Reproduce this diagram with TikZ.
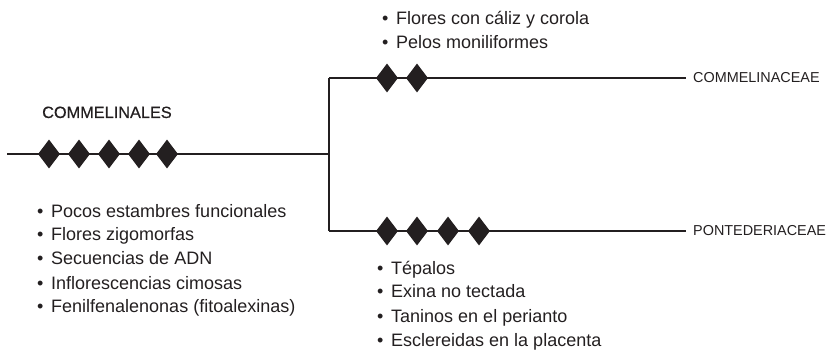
\documentclass[tikz,border=0pt]{standalone}
\usepackage{fontspec}
\setmainfont{Liberation Sans}
\newfontfamily\medfont[FakeBold=0.5]{Liberation Sans}
\usetikzlibrary{shapes.geometric}
\definecolor{ink}{HTML}{231F20}
\begin{document}
\begin{tikzpicture}[x=1pt,y=-1pt,
  branch/.style={draw=ink,line width=1.1pt},
  gem/.style={diamond,fill=ink,draw=none,inner sep=0pt,aspect=0.76,minimum width=22pt,minimum height=29pt},
  leaf/.style={text=ink,font=\fontsize{14.4}{18}\selectfont,inner xsep=7pt,inner ysep=0pt},
  group/.style={text=ink,font=\medfont\fontsize{16.3}{20}\selectfont,inner sep=0pt},
  traits/.style={text=ink,font=\fontsize{18}{24}\selectfont,align=left,inner sep=0pt}]
\useasboundingbox (0,0) rectangle (832,352);
\coordinate (root) at (7,154);
\coordinate (fork) at (329,154);
\coordinate (ftop) at (329,78);
\coordinate (fbot) at (329,231);
\node[leaf,anchor=west] (comm) at (686,78) {COMMELINACEAE};
\node[leaf,anchor=west] (pont) at (686,231) {PONTEDERIACEAE};
\draw[branch] (root) -- (fork);
\draw[branch] (ftop) -- (fbot);
\draw[branch] (ftop) -- (comm.west);
\draw[branch] (fbot) -- (pont.west);
\foreach \i/\x in {1/49,2/79,3/109,4/139,5/167}
  \node[gem] (a\i) at (\x,154) {};
\foreach \i/\x in {1/387,2/417}
  \node[gem] (b\i) at (\x,78) {};
\foreach \i/\x in {1/387,2/417,3/448,4/479}
  \node[gem] (c\i) at (\x,231) {};
\node[group,anchor=base west] (lab) at (42,118) {COMMELINALES};
\node[traits,anchor=base west] (ta) at (37,313) {•\hspace{0.15em} Pocos estambres funcionales\\•\hspace{0.15em} Flores zigomorfas\\•\hspace{0.15em} Secuencias de ADN\\•\hspace{0.15em} Inflorescencias cimosas\\•\hspace{0.15em} Fenilfenalenonas (fitoalexinas)};
\node[traits,anchor=base west] (tb) at (382,49) {•\hspace{0.15em} Flores con cáliz y corola\\•\hspace{0.15em} Pelos moniliformes};
\node[traits,anchor=base west] (tc) at (377,346) {•\hspace{0.15em} Tépalos\\•\hspace{0.15em} Exina no tectada\\•\hspace{0.15em} Taninos en el perianto\\•\hspace{0.15em} Esclereidas en la placenta};
\end{tikzpicture}
\end{document}
